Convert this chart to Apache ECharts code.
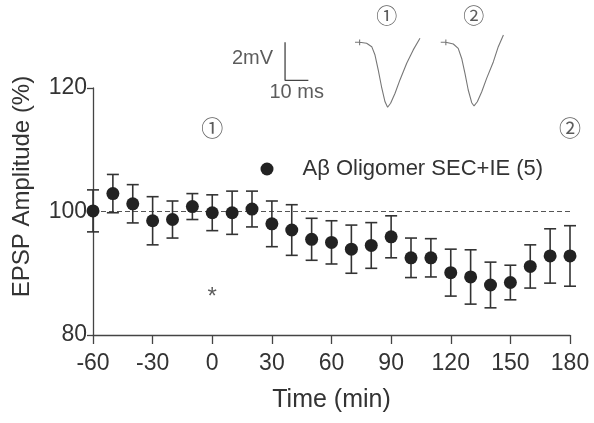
<!DOCTYPE html>
<html>
<head>
<meta charset="utf-8">
<title>EPSP amplitude over time</title>
<script src="https://cdn.jsdelivr.net/npm/echarts@6/dist/echarts.min.js"></script>
<style>
  html, body { margin: 0; padding: 0; background: #ffffff; }
  #chart { width: 594px; height: 423px; }
</style>
</head>
<body>
<div id="chart"></div>
<script>
// Time course of EPSP amplitude (mean ± SEM, % of baseline)
const seriesName = 'Aβ Oligomer SEC+IE (5)';
const timeMin = [-60, -50, -40, -30, -20, -10, 0, 10, 20, 30, 40, 50, 60, 70, 80, 90, 100, 110, 120, 130, 140, 150, 160, 170, 180];
const amplitude = [100.1, 102.9, 101.25, 98.5, 98.7, 100.8, 99.8, 99.8, 100.4, 98.0, 97.0, 95.5, 95.0, 93.9, 94.5, 95.9, 92.5, 92.5, 90.1, 89.4, 88.1, 88.5, 91.1, 92.8, 92.8];
const sem = [3.4, 3.1, 3.1, 3.9, 3.0, 2.1, 2.9, 3.5, 2.9, 3.7, 4.1, 3.4, 3.5, 3.9, 3.7, 3.4, 3.2, 3.1, 3.8, 4.4, 3.7, 2.8, 3.5, 4.4, 4.9];
const xTicks = [-60, -30, 0, 30, 60, 90, 120, 150, 180];
const yTicks = [80, 100, 120];
const baselineX = [-60, 180];
const baselineLevel = 100;

// Sample-time markers (①, ②) and the significance star
const markerTimes = [0, 180];
const markerLevel = 113.6;
const markerText = ['①', '②'];
const starPoint = [0, 86.1];

// Example EPSP traces (ms, mV) taken at time points ① and ②
const trace1T = [0, 2, 2, 2, 2, 5, 7.2, 8.6, 10, 11.4, 12.9, 14, 15.3, 17.2, 19.3, 22.2, 25, 27.9];
const trace1V = [0, 0, 0.15, -0.15, 0, -0.05, -0.23, -0.67, -1.46, -2.34, -3.13, -3.42, -3.21, -2.68, -1.98, -1.1, -0.4, 0.21];
const trace2T = [36.8, 39, 39, 39, 39, 42.2, 44.3, 45.8, 47.2, 48.6, 50.1, 51.1, 52.5, 54.4, 56.5, 59.4, 61.5, 63.7];
const trace2V = [0, 0, 0.15, -0.15, 0, -0.09, -0.32, -0.85, -1.64, -2.51, -3.18, -3.35, -3.13, -2.6, -1.9, -1.02, -0.23, 0.38];
// Scale bar: 2 mV vertical, 10 ms horizontal
const scaleBarT = [-30, -30, -20];
const scaleBarV = [0, -2, -2];
const traceLabelT = [13.6, 51];
const traceLabelV = 1.44;

const textColor = '#333';
const fontFamily = "'Liberation Sans', Arial, sans-serif";
const circledFont = "'Noto Sans CJK SC', 'DejaVu Sans', sans-serif";

const chart = echarts.init(document.getElementById('chart'), null, { renderer: 'canvas' });

function zip(a, b) { return a.map((v, i) => [v, b[i]]); }

function renderErrorBar(params, api) {
  const x = api.value(0);
  const lo = api.coord([x, api.value(1)]);
  const hi = api.coord([x, api.value(2)]);
  const hw = 6;
  const style = { stroke: '#333', lineWidth: 1.6 };
  return {
    type: 'group',
    children: [
      { type: 'line', shape: { x1: hi[0], y1: hi[1], x2: lo[0], y2: lo[1] }, style: style },
      { type: 'line', shape: { x1: hi[0] - hw, y1: hi[1], x2: hi[0] + hw, y2: hi[1] }, style: style },
      { type: 'line', shape: { x1: lo[0] - hw, y1: lo[1], x2: lo[0] + hw, y2: lo[1] }, style: style }
    ]
  };
}

const option = {
  backgroundColor: '#ffffff',
  animation: false,
  textStyle: { fontFamily: fontFamily, color: textColor },
  grid: [
    { left: 93, right: 24, top: 88, bottom: 88, outerBoundsMode: 'none' },
    { left: 273.4, width: 244.7, top: 8.1, height: 102.6, outerBoundsMode: 'none' }
  ],
  legend: {
    data: [seriesName],
    left: 260.5,
    top: 158,
    padding: 0,
    itemWidth: 13,
    itemHeight: 13,
    icon: 'circle',
    textStyle: { fontFamily: fontFamily, fontSize: 22, color: textColor, padding: [0, 0, 0, 24] },
    itemStyle: { color: '#222' }
  },
  xAxis: [
    {
      type: 'value',
      gridIndex: 0,
      min: -60,
      max: 180,
      interval: 30,
      name: 'Time (min)',
      nameLocation: 'middle',
      nameGap: 53,
      nameTextStyle: { fontSize: 25, color: textColor, fontFamily: fontFamily },
      axisLine: { show: true, onZero: false, lineStyle: { color: '#444', width: 1.3 } },
      axisTick: { show: true, length: 9, lineStyle: { color: '#444', width: 1.3 }, customValues: xTicks },
      axisLabel: { fontSize: 23, color: textColor, margin: 17, customValues: xTicks },
      splitLine: { show: false }
    },
    {
      type: 'value', gridIndex: 1, min: -35, max: 70, show: false
    }
  ],
  yAxis: [
    {
      type: 'value',
      gridIndex: 0,
      min: 80,
      max: 120,
      interval: 20,
      name: 'EPSP Amplitude (%)',
      nameLocation: 'middle',
      nameGap: 59,
      // title sits a little above the axis centre
      nameTextStyle: { fontSize: 24, color: textColor, fontFamily: fontFamily, padding: [0, 0, 0, 50] },
      axisLine: { show: true, onZero: false, lineStyle: { color: '#444', width: 1.3 } },
      axisTick: { show: true, length: 6, lineStyle: { color: '#444', width: 1.3 }, customValues: yTicks },
      axisLabel: { fontSize: 23, color: textColor, margin: 6, customValues: yTicks },
      splitLine: { show: false }
    },
    {
      type: 'value', gridIndex: 1, min: -3.6, max: 1.8, show: false
    }
  ],
  series: [
    {
      name: 'baseline',
      type: 'line',
      xAxisIndex: 0, yAxisIndex: 0,
      data: baselineX.map(x => [x, baselineLevel]),
      symbol: 'none',
      lineStyle: { color: '#555', width: 1.2, type: [5, 3] },
      silent: true,
      z: 1
    },
    {
      name: 'sem',
      type: 'custom',
      xAxisIndex: 0, yAxisIndex: 0,
      renderItem: renderErrorBar,
      data: timeMin.map((t, i) => [t, amplitude[i] - sem[i], amplitude[i] + sem[i]]),
      encode: { x: 0, y: [1, 2] },
      z: 2
    },
    {
      name: seriesName,
      type: 'scatter',
      xAxisIndex: 0, yAxisIndex: 0,
      data: zip(timeMin, amplitude),
      symbol: 'circle',
      symbolSize: 13,
      itemStyle: { color: '#222', opacity: 1 },
      z: 3
    },
    {
      name: 'markers',
      type: 'scatter',
      xAxisIndex: 0, yAxisIndex: 0,
      data: markerTimes.map((t, i) => ({ value: [t, markerLevel], label: { formatter: markerText[i] } })),
      symbolSize: 0,
      label: { show: true, position: 'inside', fontFamily: circledFont, fontSize: 22, color: textColor },
      silent: true
    },
    {
      name: 'star',
      type: 'scatter',
      xAxisIndex: 0, yAxisIndex: 0,
      data: [starPoint],
      symbolSize: 0,
      label: { show: true, position: 'inside', formatter: '*', fontSize: 24, color: textColor, fontFamily: fontFamily },
      silent: true
    },
    {
      name: 'trace1',
      type: 'line',
      xAxisIndex: 1, yAxisIndex: 1,
      data: zip(trace1T, trace1V),
      symbol: 'none',
      lineStyle: { color: '#777', width: 1.1 },
      silent: true
    },
    {
      name: 'trace2',
      type: 'line',
      xAxisIndex: 1, yAxisIndex: 1,
      data: zip(trace2T, trace2V),
      symbol: 'none',
      lineStyle: { color: '#777', width: 1.1 },
      silent: true
    },
    {
      name: 'scalebar',
      type: 'line',
      xAxisIndex: 1, yAxisIndex: 1,
      data: zip(scaleBarT, scaleBarV),
      symbol: 'none',
      lineStyle: { color: '#444', width: 1.3 },
      silent: true
    },
    {
      name: 'scaleLabels',
      type: 'scatter',
      xAxisIndex: 1, yAxisIndex: 1,
      symbolSize: 0,
      data: [
        { value: [-30, -0.85], label: { formatter: '2mV', position: 'left', distance: 12 } },
        { value: [-25, -2], label: { formatter: '10 ms', position: 'bottom', distance: 2 } }
      ],
      label: { show: true, fontSize: 20, color: textColor, fontFamily: fontFamily },
      silent: true
    },
    {
      name: 'traceLabels',
      type: 'scatter',
      xAxisIndex: 1, yAxisIndex: 1,
      symbolSize: 0,
      data: traceLabelT.map((t, i) => ({ value: [t, traceLabelV], label: { formatter: markerText[i] } })),
      label: { show: true, position: 'inside', fontFamily: circledFont, fontSize: 21, color: textColor },
      silent: true
    }
  ]
};

chart.setOption(option);
</script>
</body>
</html>
